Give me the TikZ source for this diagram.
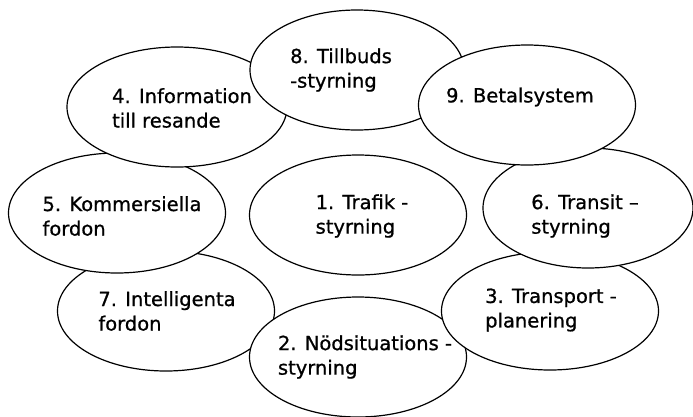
\documentclass[tikz,border=0pt]{standalone}
\usepackage{fontspec}
\setmainfont[FakeBold=0.8,BoldFont={DejaVu Sans}]{DejaVu Sans}
\usetikzlibrary{shapes.geometric}
\begin{document}
\begin{tikzpicture}[x=1pt,y=-1pt,
  oval/.style={draw=black,fill=white,line width=1.2pt,ellipse,inner sep=0pt,minimum width=217pt,minimum height=120pt},
  lbl/.style={align=left,inner sep=0pt,font=\fontsize{19.5}{24.5}\selectfont}]
\useasboundingbox[fill=white] (0,0) rectangle (693,416);
\node[oval] (e7) at (166,311) {};
\node[oval] (e2) at (358,357) {};
\node[oval,minimum height=118pt] (e3) at (550,311) {};
\node[oval,minimum width=210pt] (e6) at (588,208) {};
\node[oval] (e5) at (117,213) {};
\node[oval,minimum width=220pt] (e4) at (177,107) {};
\node[oval,minimum width=214pt] (e8) at (357,70) {};
\node[oval] (e9) at (527,105) {};
\node[oval] (e1) at (358,215) {};
\node[lbl] (t8) at (341,70) {8. Tillbuds\\-styrning};
\node[lbl] (t4) at (182,108) {4. Information\\till resande};
\node[lbl] (t9) at (520,97) {9. Betalsystem};
\node[lbl] (t5) at (122,216) {5. Kommersiella\\fordon};
\node[lbl] (t1) at (362,216) {1. Trafik -\\styrning};
\node[lbl] (t6) at (585,216) {6. Transit –\\styrning};
\node[lbl] (t7) at (167,311) {7. Intelligenta\\fordon};
\node[lbl] (t3) at (551,310) {3. Transport -\\planering};
\node[lbl] (t2) at (365,357) {2. Nödsituations -\\styrning};
\end{tikzpicture}
\end{document}
